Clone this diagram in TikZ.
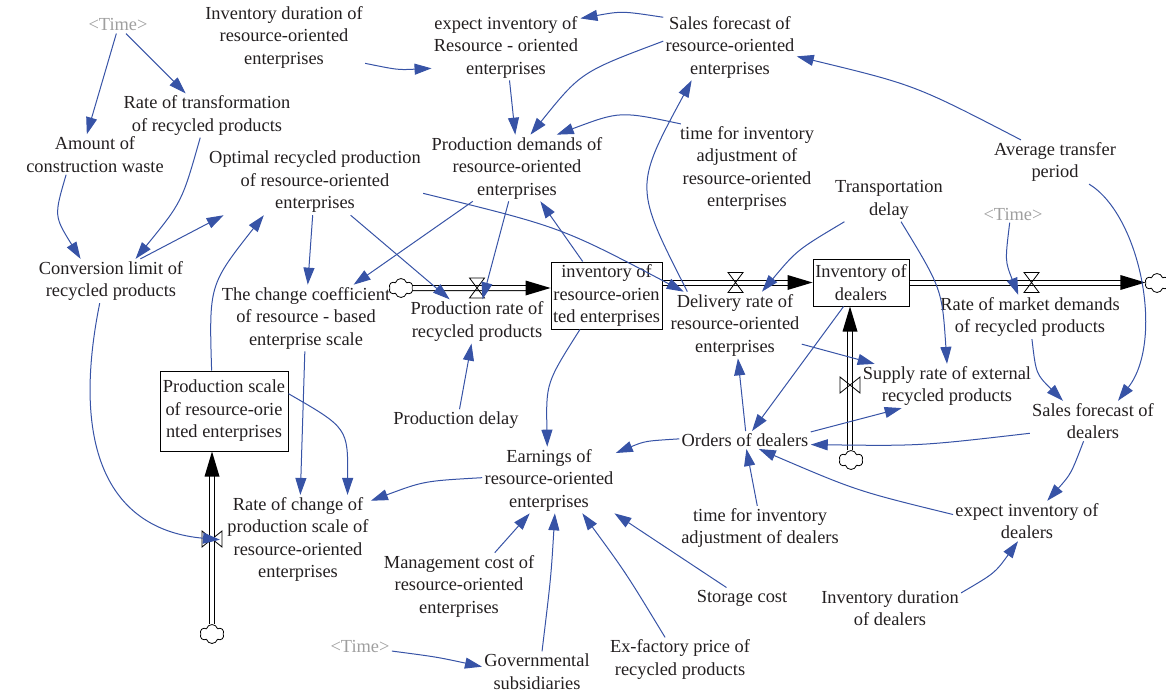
\documentclass[tikz,border=0pt]{standalone}
\usepackage{fontspec}
\setmainfont{Liberation Serif}
\usetikzlibrary{arrows.meta,calc,shapes.symbols}

\begin{document}
\begin{tikzpicture}[x=0.5pt,y=-0.5pt,
  font=\fontsize{9.2}{11.25}\selectfont,
  auxvar/.style={align=center,inner sep=1pt,text=vtext},
  ghost/.style={auxvar,text=gray!75},
  stock/.style={draw=black,line width=0.5pt,align=center,inner sep=1pt,text=vtext},
  link/.style={draw=linkblue,line width=0.5pt,-{Triangle[length=8.5pt,width=5.5pt]}},
  pipe/.style={draw=black,line width=0.5pt,double=white,double distance=2pt},
  cloudsrc/.style={cloud,draw,cloud puffs=6,minimum width=12pt,minimum height=9.5pt,inner sep=0pt,line width=0.4pt},
  hvalve/.pic={\draw[line width=0.4pt] (-7.5,-10)--(7.5,-10)--(-7.5,10)--(7.5,10)--cycle;},
  vvalve/.pic={\draw[line width=0.4pt] (-10,-8)--(-10,8)--(10,-8)--(10,8)--cycle;}]
\definecolor{vtext}{RGB}{35,31,32}
\definecolor{linkblue}{RGB}{55,83,166}

\useasboundingbox (0,0) rectangle (1166,690);

% Auxiliary variables, top row
\node[ghost] (time1) at (118,25) {<Time>};
\node[auxvar] (invdurro) at (284,37) {Inventory duration of\\resource-oriented\\enterprises};
\node[auxvar] (expro) at (506,47) {expect inventory of\\Resource - oriented\\enterprises};
\node[auxvar] (sfro) at (730,47) {Sales forecast of\\resource-oriented\\enterprises};
\node[auxvar] (rtrans) at (207,115.5) {Rate of transformation\\of recycled products};
\node[auxvar] (amount) at (95,154.5) {Amount of\\construction waste};
\node[auxvar] (optimal) at (315,182) {Optimal recycled production\\of resource-oriented\\enterprises};
\node[auxvar] (pdemand) at (517,168) {Production demands of\\resource-oriented\\enterprises};
\node[auxvar] (tiaro) at (747,168.5) {time for inventory\\adjustment of\\resource-oriented\\enterprises};
\node[auxvar] (avgtp) at (1055,162) {Average transfer\\period};
\node[auxvar] (transd) at (889,200) {Transportation\\delay};
\node[ghost] (time2) at (1013,214) {<Time>};
\node[auxvar] (convlim) at (111,281) {Conversion limit of\\recycled products};
\node[auxvar] (changec) at (306,318) {The change coefficient\\of resource - based\\enterprise scale};

% Stocks and flow rates
\node[stock,minimum width=55.5pt,minimum height=33.5pt] (invro) at (606.5,295.5) {inventory of\\resource-orien\\ted enterprises};
\node[stock,minimum width=48pt,minimum height=23.5pt] (invdl) at (861,282.5) {Inventory of\\dealers};
\node[stock,minimum width=64pt,minimum height=40pt] (pscale) at (224,411) {Production scale\\of resource-orie\\nted enterprises};
\node[auxvar] (prate) at (477,321.5) {Production rate of\\recycled products};
\node[auxvar] (delrate) at (735,325) {Delivery rate of\\resource-oriented\\enterprises};
\node[auxvar] (mrate) at (1030,317) {Rate of market demands\\of recycled products};
\node[auxvar] (supply) at (947,386) {Supply rate of external\\recycled products};
\node[auxvar] (rchange) at (298,539.5) {Rate of change of\\production scale of\\resource-oriented\\enterprises};

% Auxiliary variables, lower half
\node[auxvar] (sfdl) at (1093,421) {Sales forecast of\\dealers};
\node[auxvar] (pdelay) at (456,420) {Production delay};
\node[auxvar] (orders) at (745,440) {Orders of dealers};
\node[auxvar] (earnings) at (549,480) {Earnings of\\resource-oriented\\enterprises};
\node[auxvar] (tiadl) at (760,528) {time for inventory\\adjustment of dealers};
\node[auxvar] (expdl) at (1027,521) {expect inventory of\\dealers};
\node[auxvar] (mgmt) at (459,586) {Management cost of\\resource-oriented\\enterprises};
\node[auxvar] (storage) at (742,598) {Storage cost};
\node[auxvar] (invdurdl) at (890,608) {Inventory duration\\of dealers};
\node[ghost] (time3) at (360,646) {<Time>};
\node[auxvar] (gov) at (537,671.5) {Governmental\\subsidiaries};
\node[auxvar] (exf) at (680,659.5) {Ex-factory price of\\recycled products};

% Pipes, clouds and valves
\node[cloudsrc] (cloud1) at (401,288) {};
\node[cloudsrc] (cloud3) at (1157,283) {};
\node[cloudsrc] (cloud4) at (851,460) {};
\node[cloudsrc] (cloud5) at (212,634) {};
\coordinate (in1) at (invro.west |- cloud1);
\coordinate (out2) at (invro.east |- invdl.west);
\coordinate (in3) at (cloud3.west |- invdl.east);
\coordinate (in4) at (850,0 |- invdl.south);
\coordinate (in5) at (cloud5.north |- pscale.south);
\coordinate (v1) at (477,288);
\coordinate (v2) at (735.5,282.5);
\coordinate (v3) at (1031.5,282.5);
\coordinate (v4) at (850,385);
\coordinate (v5) at (212,539);

\draw[pipe,shorten >=10pt] (cloud1.east) -- (in1);
\draw[pipe,shorten >=10pt] (out2) -- (invdl.west);
\draw[pipe,shorten >=10pt] (invdl.east) -- (in3);
\draw[pipe,shorten >=10pt] (in4 |- cloud4.north) -- (in4);
\draw[pipe,shorten >=10pt] (cloud5.north) -- (in5);
\fill (in1) -- ++(-25,-7.5) -- ++(0,15) -- cycle;
\fill (invdl.west) -- ++(-25,-7.5) -- ++(0,15) -- cycle;
\fill (in3) -- ++(-25,-7.5) -- ++(0,15) -- cycle;
\fill (in4) -- ++(-7.5,25) -- ++(15,0) -- cycle;
\fill (in5) -- ++(-7.5,25) -- ++(15,0) -- cycle;
\pic at (v1) {hvalve};
\pic at (v2) {hvalve};
\pic at (v3) {hvalve};
\pic at (v4) {vvalve};
\pic at (v5) {vvalve};

% Causal links, resource-oriented side
\draw[link] (time1.259) -- (amount.112);
\draw[link] (time1.313) -- (rtrans.134);
\draw[link] (invdurro.342) .. controls (398,70) .. (expro.196);
\draw[link] (sfro.156) .. controls (622,11) .. (expro.21);
\draw[link] (sfro.175) .. controls (581,72) .. (pdemand.68);
\draw[link] (expro.276) -- (pdemand.93);
\draw[link] (tiaro.146) .. controls (620,111) .. (pdemand.40);
\draw[link] (avgtp.147) .. controls (915,85) .. (sfro.352);
\draw[link] (delrate.145) .. controls (634,187) .. (sfro.221);
\draw[link] (optimal.354) .. controls (561,227) .. (delrate.147);
\draw[link] (pdemand.217) -- (changec.35);
\draw[link] (pdemand.256) -- (prate.76);
\draw[link] (optimal.266) -- (changec.87);
\draw[link] (optimal.317) -- (prate.141);
\draw[link] (invro.125) -- (pdemand.305);
\draw[link] (amount.215) .. controls (54,216) .. (convlim.144);
\draw[link] (rtrans.253) .. controls (182,202) .. (convlim.42);
\draw[link] (convlim.37) -- (optimal.200);
\draw[link] (pscale.107) .. controls (209,285) .. (optimal.213);
\draw[link,shorten >=-4pt] (convlim.243) .. controls (70,450) and (110,530) .. (v5);
\draw[link] (changec.268) -- (rchange.87);
\draw[link] (pscale.15) .. controls (348,428) .. (rchange.42);
\draw[link] (earnings.178) .. controls (424,481) .. (rchange.28);
\draw[link] (invro.232) .. controls (546,383) .. (earnings.93);
\draw[link] (pdelay.72) -- (prate.256);

% Causal links, dealer side
\draw[link] (orders.179) .. controls (645,441) .. (earnings.22);
\draw[link] (orders.86) -- (delrate.275);
\draw[link] (invdl.234) -- (orders.52);
\draw[link] (delrate.344) -- (supply.163);
\draw[link] (transd.206) .. controls (797,250) .. (delrate.51);
\draw[link] (transd.299) .. controls (942,289) .. (supply.90);
\draw[link] (time2.249) .. controls (1005,261) .. (mrate.118);
\draw[link] (avgtp.327) .. controls (1140,215) and (1165,340) .. (sfdl.39);
\draw[link] (mrate.275) .. controls (1036,374) .. (sfdl.146);
\draw[link] (sfdl.191) .. controls (920,446) .. (orders.356);
\draw[link] (orders.7) -- (supply.206);
\draw[link] (sfdl.245) .. controls (1071,474) .. (expdl.45);
\draw[link] (expdl.175) .. controls (857,491) .. (orders.327);
\draw[link] (tiadl.97) -- (orders.279);
\draw[link] (invdurdl.12) .. controls (995,573) .. (expdl.246);

% Inputs to earnings
\draw[link] (mgmt.43) -- (earnings.240);
\draw[link] (gov.76) .. controls (551,577) .. (earnings.280);
\draw[link] (exf.124) .. controls (626,573) .. (earnings.315);
\draw[link] (storage.146) -- (earnings.333);
\draw[link] (time3.351) .. controls (437,657) .. (gov.175);

\end{tikzpicture}
\end{document}
